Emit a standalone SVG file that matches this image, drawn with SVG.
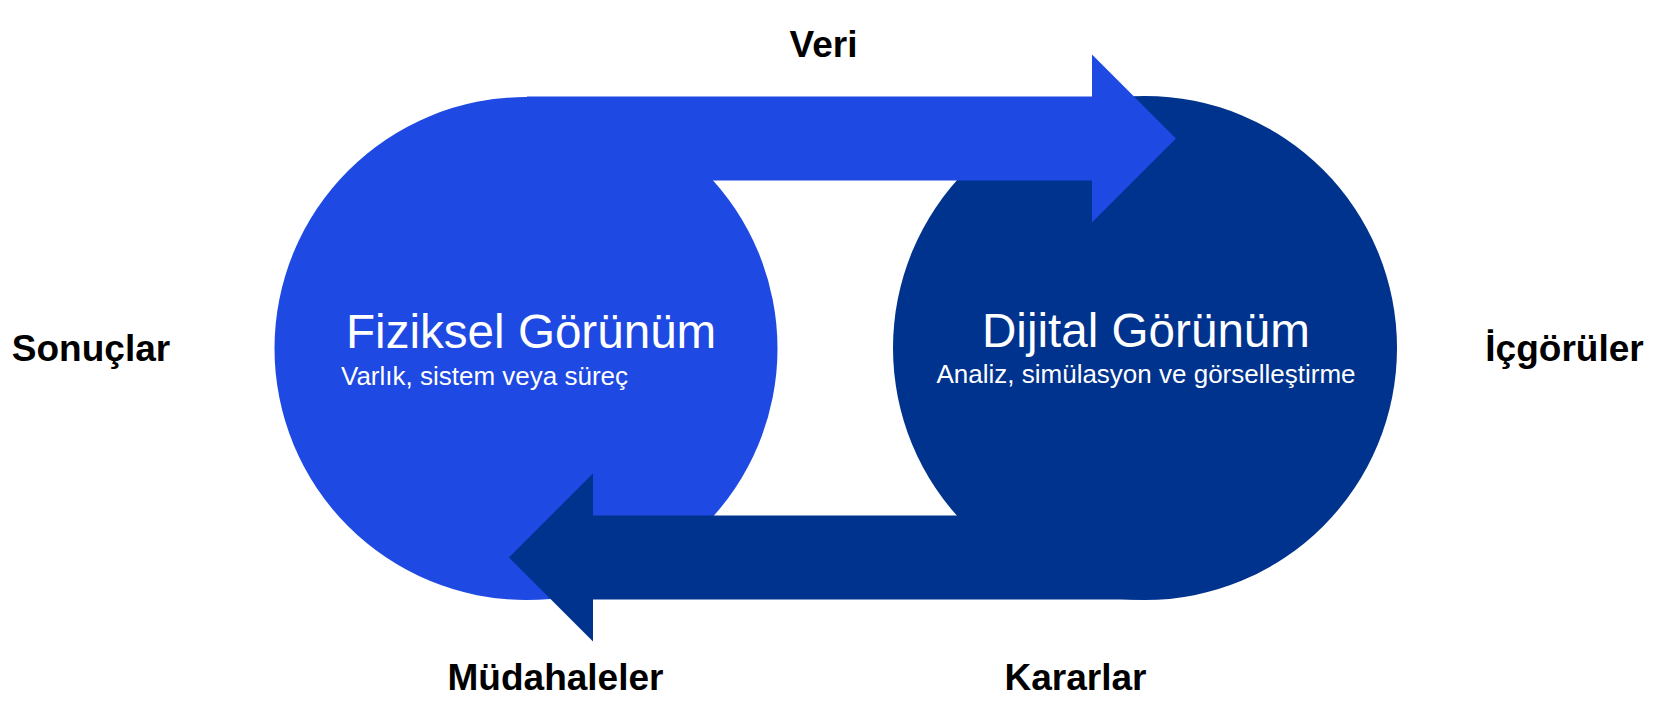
<svg xmlns="http://www.w3.org/2000/svg" width="1656" height="716" viewBox="0 0 1656 716">
  <style>
    .light { fill: #1E49E2; }
    .dark { fill: #00338D; }
    .title { font-family: "Liberation Sans", Arial, sans-serif; font-size: 47.6px; fill: #FFFFFF; }
    .sub { font-family: "Liberation Sans", Arial, sans-serif; font-size: 26px; fill: #FFFFFF; }
    .lbl { font-family: "Liberation Sans", Arial, sans-serif; font-size: 37px; font-weight: bold; fill: #000000; text-anchor: middle; }
  </style>
  <rect width="1656" height="716" fill="#FFFFFF"/>
  <g id="physical-view">
    <circle class="light" cx="526" cy="348.5" r="251.5"/>
    <text class="title" x="346" y="348">Fiziksel Görünüm</text>
    <text class="sub" x="341" y="385">Varlık, sistem veya süreç</text>
  </g>
  <g id="digital-view">
    <circle class="dark" cx="1145" cy="348" r="252"/>
    <text class="title" x="1146" y="347" text-anchor="middle">Dijital Görünüm</text>
    <text class="sub" x="1146" y="383" text-anchor="middle">Analiz, simülasyon ve görselleştirme</text>
  </g>
  <g id="connectors">
    <polygon id="arrow-data" class="light" points="527,96.5 1092,96.5 1092,54.5 1176,138.5 1092,222.5 1092,180.5 527,180.5"/>
    <polygon id="arrow-interventions" class="dark" points="1145,515.5 593,515.5 593,473.5 509,557.5 593,641.5 593,599.5 1145,599.5"/>
  </g>
  <g id="labels">
    <text class="lbl" x="823.5" y="57">Veri</text>
    <text class="lbl" x="1075.5" y="690">Kararlar</text>
    <text class="lbl" x="555.5" y="690">Müdahaleler</text>
    <text class="lbl" x="91" y="361">Sonuçlar</text>
    <text class="lbl" x="1564.5" y="361">İçgörüler</text>
  </g>
</svg>
